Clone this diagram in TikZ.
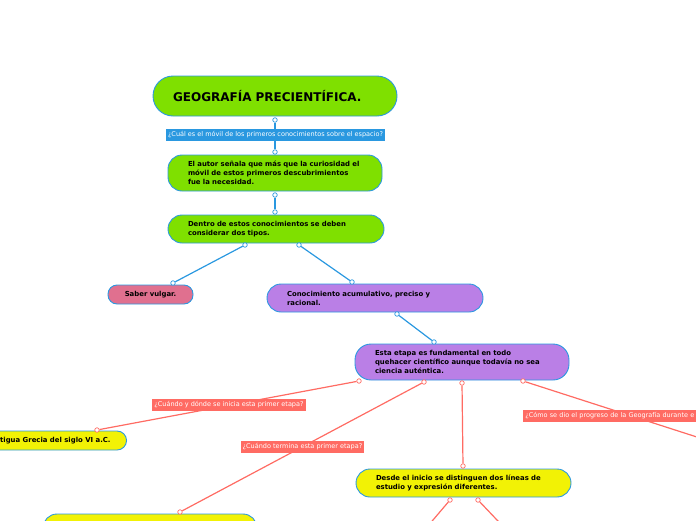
\documentclass[tikz,border=0pt]{standalone}
\usepackage{fontspec}
\setmainfont{DejaVu Sans}
\usetikzlibrary{backgrounds}

\definecolor{mapgreen}{HTML}{7FE000}
\definecolor{mapblue}{HTML}{2A98E0}
\definecolor{mappurple}{HTML}{BA7FE6}
\definecolor{mappink}{HTML}{E0708F}
\definecolor{mapyellow}{HTML}{F2F205}
\definecolor{mapred}{HTML}{FF6B63}

\begin{document}
\begin{tikzpicture}[x=1pt,y=-1pt,line width=0.8pt,
  topic/.style={draw=mapblue,line width=0.9pt,rounded corners=14pt,minimum height=28pt,
    inner xsep=20pt,inner ysep=0pt,align=left,font=\fontsize{6.9}{9}\selectfont\bfseries},
  ask/.style={inner xsep=2pt,inner ysep=0pt,minimum height=12pt,text=white,
    font=\fontsize{6.5}{7}\selectfont},
  dot/.style={circle,draw,fill=white,inner sep=0pt,minimum size=4.5pt,line width=0.7pt},
  blueline/.style={draw=mapblue,line width=1.2pt},
  redline/.style={draw=mapred,line width=1.2pt}]
  \clip (0,0) rectangle (696,520);

  % nodes
  \node[topic,fill=mapgreen,rounded corners=20pt,minimum height=40pt,text width=204pt,
    font=\fontsize{12}{14}\selectfont\bfseries] (title) at (275,96) {GEOGRAFÍA PRECIENTÍFICA.};
  \node[ask,fill=mapblue] (q1) at (275.5,135) {¿Cuál es el móvil de los primeros conocimientos sobre el espacio?};
  \node[topic,fill=mapgreen,minimum height=36pt,text width=174pt] (autor) at (275,173)
    {El autor señala que más que la curiosidad el\\móvil de estos primeros descubrimientos\\fue la necesidad.};
  \node[topic,fill=mapgreen,text width=176pt] (tipos) at (276,229)
    {Dentro de estos conocimientos se deben\\considerar dos tipos.};
  \node[topic,fill=mappink,rounded corners=9pt,minimum height=19pt,minimum width=85pt,
    inner xsep=4pt,align=center] (vulgar) at (150.5,294.5) {Saber vulgar.};
  \node[topic,fill=mappurple,text width=176pt] (acum) at (375,298)
    {Conocimiento acumulativo, preciso y\\racional.};
  \node[topic,fill=mappurple,rounded corners=16pt,minimum height=36pt,text width=174pt] (etapa) at (462,362)
    {Esta etapa es fundamental en todo\\quehacer científico aunque todavía no sea\\ciencia auténtica.};
  \node[topic,fill=mapyellow,rounded corners=9.5pt,minimum height=19pt,inner xsep=16pt,
    anchor=east] (grecia) at (127,440.5) {tigua Grecia del siglo VI a.C.};
  \node[topic,fill=mapyellow,text width=175pt] (lineas) at (463.5,483)
    {Desde el inicio se distinguen dos líneas de\\estudio y expresión diferentes.};
  \node[topic,fill=mapyellow,rounded corners=14pt,minimum height=40pt,text width=174pt] (termina) at (150,534) {};

  \node[ask,fill=mapred] (q2) at (229,405) {¿Cuándo y dónde se inicia esta primer etapa?};
  \node[ask,fill=mapred] (q3) at (302.5,447) {¿Cuándo termina esta primer etapa?};
  \node[ask,fill=mapred,anchor=west,text width=210pt,align=left] (q4) at (523,416)
    {¿Cómo se dio el progreso de la Geografía durante e};

  % connector ends
  \node[dot,draw=mapblue] (t1) at (275,120) {};
  \node[dot,draw=mapblue] (a1) at (275,152) {};
  \node[dot,draw=mapblue] (a2) at (275,195) {};
  \node[dot,draw=mapblue] (d1) at (275,212) {};
  \node[dot,draw=mapblue] (d2) at (245,245) {};
  \node[dot,draw=mapblue] (d3) at (299,245) {};
  \node[dot,draw=mapblue] (s1) at (173,283) {};
  \node[dot,draw=mapblue] (c1) at (352,282) {};
  \node[dot,draw=mapblue] (c2) at (397,314) {};
  \node[dot,draw=mapblue] (e1) at (434,342) {};
  \node[dot,draw=mapred] (e2) at (359,381) {};
  \node[dot,draw=mapred] (e3) at (424,382) {};
  \node[dot,draw=mapred] (e4) at (462,383) {};
  \node[dot,draw=mapred] (e5) at (523,381) {};
  \node[dot,draw=mapred] (g1) at (97,430) {};
  \node[dot,draw=mapred] (b1) at (180,512) {};
  \node[dot,draw=mapred] (f1) at (463,466) {};
  \node[dot,draw=mapred] (f2) at (450,500) {};
  \node[dot,draw=mapred] (f3) at (478,500) {};
  \coordinate (r1) at (790,467);
  \coordinate (h1) at (416,540);
  \coordinate (h2) at (516,540);

  \begin{scope}[on background layer]
    \draw[blueline] (t1) -- (a1);
    \draw[blueline] (a2) -- (d1);
    \draw[blueline] (d2) -- (s1);
    \draw[blueline] (d3) -- (c1);
    \draw[blueline] (c2) -- (e1);
    \draw[redline] (e2) -- (g1);
    \draw[redline] (e3) -- (b1);
    \draw[redline] (e4) -- (f1);
    \draw[redline] (e5) -- (r1);
    \draw[redline] (f2) -- (h1);
    \draw[redline] (f3) -- (h2);
  \end{scope}
\end{tikzpicture}
\end{document}
